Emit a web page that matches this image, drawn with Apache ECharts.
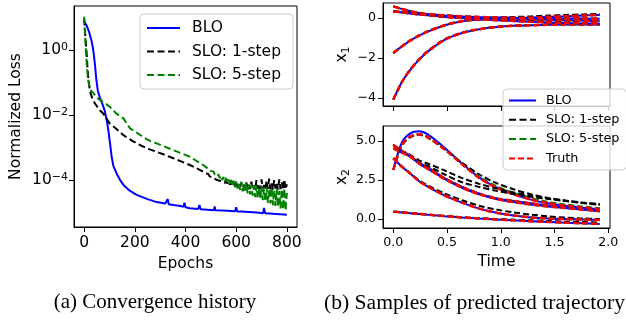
<!DOCTYPE html>
<html><head><meta charset="utf-8">
<script src="https://cdn.jsdelivr.net/npm/echarts@6/dist/echarts.min.js"></script>
<style>html,body{margin:0;padding:0;background:#fff}#c{width:626px;height:320px}</style>
</head><body><div id="c"></div><script>
// ---------- (a) convergence history ----------
const epochsBLO = [0,10,20,30,36,42,48,54,62,72,82,90,96,102,108,115,128,142,155,180,207,250,286,320,326,330,334,340,352,380,392,396,400,417,450,455,460,500,512,515,518,549,596,600,604,620,681,706,710,714,730,800];
const lossBLO = [7.9,5.6,3.5,1.8,1.0,0.4,0.126,0.056,0.035,0.022,0.013,6.3e-3,3.2e-3,1.4e-3,5.6e-4,2.8e-4,1.6e-4,1.0e-4,7.1e-5,4.7e-5,3.5e-5,2.6e-5,2.1e-5,1.9e-5,1.85e-5,2.6e-5,1.8e-5,1.8e-5,1.7e-5,1.6e-5,1.5e-5,2.0e-5,1.45e-5,1.35e-5,1.28e-5,1.7e-5,1.26e-5,1.2e-5,1.18e-5,1.55e-5,1.17e-5,1.15e-5,1.1e-5,1.45e-5,1.08e-5,1.07e-5,1.0e-5,9.6e-6,1.4e-5,9.5e-6,9.3e-6,8.5e-6];

const epochsSLO1 = [0,5,9,13,16,20,25,33,42,62,76,101,130,155,190,220,250,286,320,352,385,417,445,470,
  480,485,490,495,500,505,510,515,520,525,530,535,540,545,550,555,560,565,570,575,580,585,590,595,600,605,610,615,620,625,630,635,640,645,650,655,660,665,670,675,680,685,690,695,700,705,710,715,720,725,730,735,740,745,750,755,760,765,770,775,780,785,790,795,800];
const lossSLO1 = [9.3,2.5,1.0,0.3,0.15,0.08,0.047,0.032,0.023,0.014,0.011,5.5e-3,3.6e-3,2.4e-3,1.6e-3,1.2e-3,9.3e-4,7.4e-4,5.9e-4,4.7e-4,3.7e-4,2.9e-4,2.3e-4,1.8e-4,
  1.6e-4,1.45e-4,1.55e-4,1.3e-4,1.4e-4,1.2e-4,1.35e-4,1.1e-4,1.25e-4,1.0e-4,
  1.15e-4,9.5e-5,1.05e-4,8.8e-5,1.0e-4,8.2e-5,9.5e-5,7.8e-5,9.0e-5,7.2e-5,
  8.6e-5,6.8e-5,8.5e-5,6.5e-5,8.8e-5,6.2e-5,7.5e-5,5.9e-5,8.2e-5,5.8e-5,
  7.0e-5,5.6e-5,8.5e-5,5.5e-5,7.2e-5,5.3e-5,9.0e-5,5.4e-5,6.8e-5,5.2e-5,
  1.0e-4,5.5e-5,7.5e-5,5.2e-5,1.05e-4,5.6e-5,7.0e-5,5.0e-5,9.5e-5,5.4e-5,
  1.1e-4,5.2e-5,7.8e-5,5.0e-5,1.0e-4,5.5e-5,8.0e-5,5.1e-5,1.05e-4,5.3e-5,
  8.5e-5,5.0e-5,1.05e-4,5.2e-5,7.5e-5];

const epochsSLO5 = [0,4,7,11,16,22,28,36,50,62,80,101,128,155,181,210,233,260,286,320,352,385,417,445,470,490,
  500,505,510,515,520,525,530,535,540,545,550,555,560,565,570,575,580,585,590,595,600,605,610,615,620,625,630,635,640,645,650,655,660,665,670,675,680,685,690,695,700,705,710,715,720,725,730,735,740,745,750,755,760,765,770,775,780,785,790,795,800];
const lossSLO5 = [10.5,2.5,1.0,0.3,0.12,0.07,0.055,0.047,0.035,0.029,0.024,0.018,0.011,7.9e-3,3.9e-3,2.8e-3,2.1e-3,1.6e-3,1.35e-3,1.05e-3,8.3e-4,6.6e-4,5.2e-4,3.8e-4,2.9e-4,2.2e-4,
  1.9e-4,1.7e-4,1.85e-4,1.5e-4,1.65e-4,1.3e-4,1.5e-4,1.15e-4,1.35e-4,1.0e-4,
  1.25e-4,9e-5,1.15e-4,8e-5,1.05e-4,7e-5,1.0e-4,6.5e-5,9.5e-5,6e-5,
  9e-5,5.5e-5,8.5e-5,5e-5,9e-5,4.5e-5,7.5e-5,4.2e-5,8e-5,3.9e-5,
  7e-5,3.6e-5,7.5e-5,3.3e-5,6.5e-5,3.0e-5,6.8e-5,2.8e-5,6e-5,2.6e-5,
  6.5e-5,2.4e-5,5.5e-5,2.2e-5,6e-5,2.0e-5,5.2e-5,1.9e-5,5.8e-5,1.7e-5,
  5e-5,1.6e-5,5.5e-5,1.5e-5,4.6e-5,1.35e-5,5.2e-5,1.25e-5,5.5e-5,1.15e-5,
  4.0e-5];

const epochTicks = [0,200,400,600,800];
const lossTicks = [1e-4,1e-2,1];

// ---------- (b) sample trajectories ----------
const trajTime = [0,0.08,0.16,0.24,0.32,0.48,0.64,0.8,0.96,1.12,1.28,1.44,1.6,1.76,1.92];
const x1Truth = [
  [-4.08,-3.2,-2.58,-2.08,-1.68,-1.08,-0.75,-0.56,-0.45,-0.39,-0.36,-0.34,-0.33,-0.33,-0.33],
  [-1.75,-1.42,-1.12,-0.88,-0.68,-0.36,-0.16,-0.07,-0.04,-0.05,-0.07,-0.09,-0.11,-0.13,-0.15],
  [0.58,0.45,0.34,0.25,0.18,0.07,0.0,-0.03,-0.03,-0.01,0.02,0.06,0.09,0.12,0.15],
  [0.33,0.28,0.23,0.18,0.14,0.06,0.0,-0.06,-0.11,-0.15,-0.19,-0.22,-0.25,-0.27,-0.28],
  [0.33,0.29,0.25,0.22,0.19,0.13,0.08,0.05,0.03,0.01,0.0,-0.01,-0.02,-0.03,-0.04]
];
const x1BLO = x1Truth;
const x1SLO5 = x1Truth;
const x1SLO1 = [
  [-4.08,-3.2,-2.55,-2.05,-1.65,-1.06,-0.73,-0.55,-0.44,-0.38,-0.35,-0.33,-0.32,-0.32,-0.32],
  [-1.75,-1.4,-1.1,-0.86,-0.66,-0.35,-0.15,-0.06,-0.03,-0.03,-0.04,-0.05,-0.06,-0.07,-0.08],
  [0.58,0.45,0.34,0.25,0.18,0.08,0.02,0.0,0.02,0.05,0.08,0.12,0.15,0.18,0.2],
  [0.33,0.28,0.23,0.18,0.14,0.06,0.0,-0.05,-0.09,-0.13,-0.16,-0.19,-0.22,-0.24,-0.25],
  [0.33,0.29,0.25,0.22,0.19,0.13,0.08,0.05,0.03,0.02,0.01,0.0,-0.01,-0.02,-0.03]
];
const x2Truth = [
  [3.14,4.75,5.3,5.43,5.25,4.45,3.5,2.62,2.0,1.58,1.25,1.02,0.86,0.74,0.64],
  [3.89,3.35,2.9,2.42,2.08,1.5,1.05,0.66,0.4,0.22,0.1,0.03,-0.01,-0.04,-0.06],
  [4.74,4.35,4.05,3.6,3.3,2.6,2.05,1.62,1.32,1.15,1.0,0.86,0.74,0.63,0.53],
  [4.53,4.25,3.98,3.55,3.22,2.55,2.0,1.58,1.28,1.08,0.92,0.8,0.7,0.6,0.5],
  [0.47,0.42,0.37,0.32,0.27,0.18,0.1,0.03,-0.03,-0.09,-0.14,-0.19,-0.24,-0.28,-0.32]
];
const x2BLO = [
  [3.14,4.9,5.5,5.62,5.42,4.55,3.55,2.65,2.02,1.58,1.24,1.0,0.84,0.72,0.62],
  x2Truth[1], x2Truth[2], x2Truth[3], x2Truth[4]
];
const x2SLO1 = [
  [3.14,4.7,5.25,5.4,5.22,4.45,3.6,2.85,2.3,1.9,1.58,1.35,1.17,1.03,0.93],
  [3.89,3.35,2.92,2.48,2.15,1.62,1.2,0.85,0.6,0.42,0.28,0.17,0.09,0.03,-0.01],
  [4.74,4.38,4.1,3.75,3.55,3.1,2.62,2.25,1.95,1.7,1.5,1.32,1.18,1.05,0.95],
  [4.53,4.28,4.0,3.6,3.4,2.85,2.35,2.05,1.8,1.6,1.42,1.28,1.15,1.02,0.9],
  [0.47,0.42,0.37,0.32,0.27,0.19,0.11,0.05,0.0,-0.05,-0.09,-0.13,-0.17,-0.2,-0.23]
];
const x2SLO5 = [
  [3.14,4.75,5.3,5.43,5.25,4.46,3.53,2.7,2.1,1.68,1.35,1.1,0.93,0.8,0.7],
  x2Truth[1], x2Truth[2], x2Truth[3], x2Truth[4]
];
const timeTicks = [0,0.5,1,1.5,2];
const x1Ticks = [-4,-2,0];
const x2Ticks = [0,2.5,5];

const FONT = 'DejaVu Sans';
const zip = (a, b) => a.map((v, i) => [v, b[i]]);
const minus = s => String(s).replace('-', '\u2212');

const series = [];
series.push({name:'BLO', type:'line', xAxisIndex:0, yAxisIndex:0, symbol:'none', data: zip(epochsBLO, lossBLO), lineStyle:{color:'#0000ff', width:2}, itemStyle:{color:'#0000ff'}});
series.push({name:'SLO: 1-step', type:'line', xAxisIndex:0, yAxisIndex:0, symbol:'none', data: zip(epochsSLO1, lossSLO1), lineStyle:{color:'#000', width:2, type:[7,3.5]}, itemStyle:{color:'#000'}});
series.push({name:'SLO: 5-step', type:'line', xAxisIndex:0, yAxisIndex:0, symbol:'none', data: zip(epochsSLO5, lossSLO5), lineStyle:{color:'#008000', width:2, type:[7,3.5]}, itemStyle:{color:'#008000'}});

const methods = [
  {name:'BLO', x1:x1BLO, x2:x2BLO, color:'#0000ff', width:2, type:'solid'},
  {name:'SLO: 1-step', x1:x1SLO1, x2:x2SLO1, color:'#000', width:2, type:[6,3]},
  {name:'SLO: 5-step', x1:x1SLO5, x2:x2SLO5, color:'#008000', width:2, type:[6,3]},
  {name:'Truth', x1:x1Truth, x2:x2Truth, color:'#ff0000', width:2.5, type:[6,3]}
];
for (let k = 0; k < 5; k++) {
  methods.forEach(m => {
    series.push({name:m.name, type:'line', xAxisIndex:1, yAxisIndex:1, symbol:'none', smooth:0.3, data: zip(trajTime, m.x1[k]), lineStyle:{color:m.color, width:m.width, type:m.type}, itemStyle:{color:m.color}});
    series.push({name:m.name, type:'line', xAxisIndex:2, yAxisIndex:2, symbol:'none', smooth:0.3, data: zip(trajTime, m.x2[k]), lineStyle:{color:m.color, width:m.width, type:m.type}, itemStyle:{color:m.color}});
  });
}

const axisCommon = () => ({
  axisLine:{show:true, onZero:false, lineStyle:{color:'#000', width:1}},
  splitLine:{show:false}
});
const nameStyle = {fontFamily:FONT, fontSize:15.5, color:'#000'};
const subRich = {v:{fontFamily:FONT, fontSize:15.5, color:'#000', lineHeight:18, verticalAlign:'top'}, s:{fontFamily:FONT, fontSize:11, color:'#000', lineHeight:11, padding:[9,0,0,0], verticalAlign:'bottom'}};

const option = {
  animation:false,
  backgroundColor:'#fff',
  grid:[
    {left:74, top:6, width:223, height:221, show:true, borderColor:'#000', borderWidth:1, backgroundColor:'transparent'},
    {left:383, top:3, width:227, height:103, show:true, borderColor:'#000', borderWidth:1, backgroundColor:'transparent'},
    {left:383, top:126, width:227, height:102, show:true, borderColor:'#000', borderWidth:1, backgroundColor:'transparent'}
  ],
  xAxis:[
    Object.assign(axisCommon(), {gridIndex:0, type:'value', min:-40, max:840,
      axisTick:{show:true, length:5, lineStyle:{color:'#000'}, customValues:epochTicks},
      axisLabel:{fontFamily:FONT, fontSize:15.5, color:'#000', margin:8, customValues:epochTicks},
      name:'Epochs', nameLocation:'middle', nameGap:28, nameTextStyle:nameStyle}),
    Object.assign(axisCommon(), {gridIndex:1, type:'value', min:-0.096, max:2.016,
      axisTick:{show:true, length:5, lineStyle:{color:'#000'}, customValues:timeTicks},
      axisLabel:{show:false}}),
    Object.assign(axisCommon(), {gridIndex:2, type:'value', min:-0.096, max:2.016,
      axisTick:{show:true, length:5, lineStyle:{color:'#000'}, customValues:timeTicks},
      axisLabel:{fontFamily:FONT, fontSize:12.6, color:'#000', margin:8, customValues:timeTicks, formatter:v => v.toFixed(1)},
      name:'Time', nameLocation:'middle', nameGap:26, nameTextStyle:nameStyle})
  ],
  yAxis:[
    Object.assign(axisCommon(), {gridIndex:0, type:'log', logBase:10, min:3.6e-6, max:22.6,
      axisTick:{show:true, length:5, lineStyle:{color:'#000'}, customValues:lossTicks},
      axisLabel:{fontFamily:FONT, fontSize:15.5, color:'#000', margin:6, customValues:lossTicks,
        padding:[0,0,1,0],
        formatter:v => '{b|10}{s|' + minus(Math.round(Math.log10(v))) + '}',
        rich:{b:{fontFamily:FONT, fontSize:15.5, color:'#000', lineHeight:16, padding:[4,0,0,0], verticalAlign:'bottom'},
              s:{fontFamily:FONT, fontSize:11, color:'#000', lineHeight:12, verticalAlign:'top'}}},
      name:'Normalized Loss', nameLocation:'middle', nameGap:50, nameTextStyle:nameStyle}),
    Object.assign(axisCommon(), {gridIndex:1, type:'value', min:-4.4, max:0.75,
      axisTick:{show:true, length:5, lineStyle:{color:'#000'}, customValues:x1Ticks},
      axisLabel:{fontFamily:FONT, fontSize:12.6, color:'#000', margin:7, customValues:x1Ticks, formatter:v => minus(v)},
      name:'{v|x}{s|1}', nameLocation:'middle', nameGap:31,
      nameTextStyle:Object.assign({}, nameStyle, {rich:subRich})}),
    Object.assign(axisCommon(), {gridIndex:2, type:'value', min:-0.58, max:5.96,
      axisTick:{show:true, length:5, lineStyle:{color:'#000'}, customValues:x2Ticks},
      axisLabel:{fontFamily:FONT, fontSize:12.6, color:'#000', margin:7, customValues:x2Ticks, formatter:v => v.toFixed(1)},
      name:'{v|x}{s|2}', nameLocation:'middle', nameGap:31,
      nameTextStyle:Object.assign({}, nameStyle, {rich:subRich})})
  ],
  legend:[
    {data:['BLO','SLO: 1-step','SLO: 5-step'], orient:'vertical', left:140, top:14,
     itemWidth:33, itemHeight:14, itemGap:5.5, padding:[5,12,5,6],
     itemStyle:{opacity:0},
     textStyle:{fontFamily:FONT, fontSize:15.5, color:'#000', lineHeight:18, padding:[0,0,0,7]},
     backgroundColor:'rgba(255,255,255,0.8)', borderColor:'#cccccc', borderWidth:1, borderRadius:4, selectedMode:false},
    {data:['BLO','SLO: 1-step','SLO: 5-step','Truth'], orient:'vertical', left:503, top:89,
     itemWidth:27, itemHeight:12, itemGap:4.3, padding:[4,7,4,5],
     itemStyle:{opacity:0},
     textStyle:{fontFamily:FONT, fontSize:12.8, color:'#000', lineHeight:15, padding:[0,0,0,5]},
     backgroundColor:'rgba(255,255,255,0.8)', borderColor:'#cccccc', borderWidth:1, borderRadius:4, selectedMode:false}
  ],
  graphic:[
    {type:'text', x:155, y:292, style:{text:'(a) Convergence history', fontFamily:'Liberation Serif', fontSize:21, fill:'#000', align:'center', verticalAlign:'top'}},
    {type:'text', x:324, y:292, style:{text:'(b) Samples of predicted trajectory', fontFamily:'Liberation Serif', fontSize:21.6, fill:'#000', align:'left', verticalAlign:'top'}}
  ],
  series: series
};
const chart = echarts.init(document.getElementById('c'), null, {renderer:'canvas'});
chart.setOption(option);
</script></body></html>
